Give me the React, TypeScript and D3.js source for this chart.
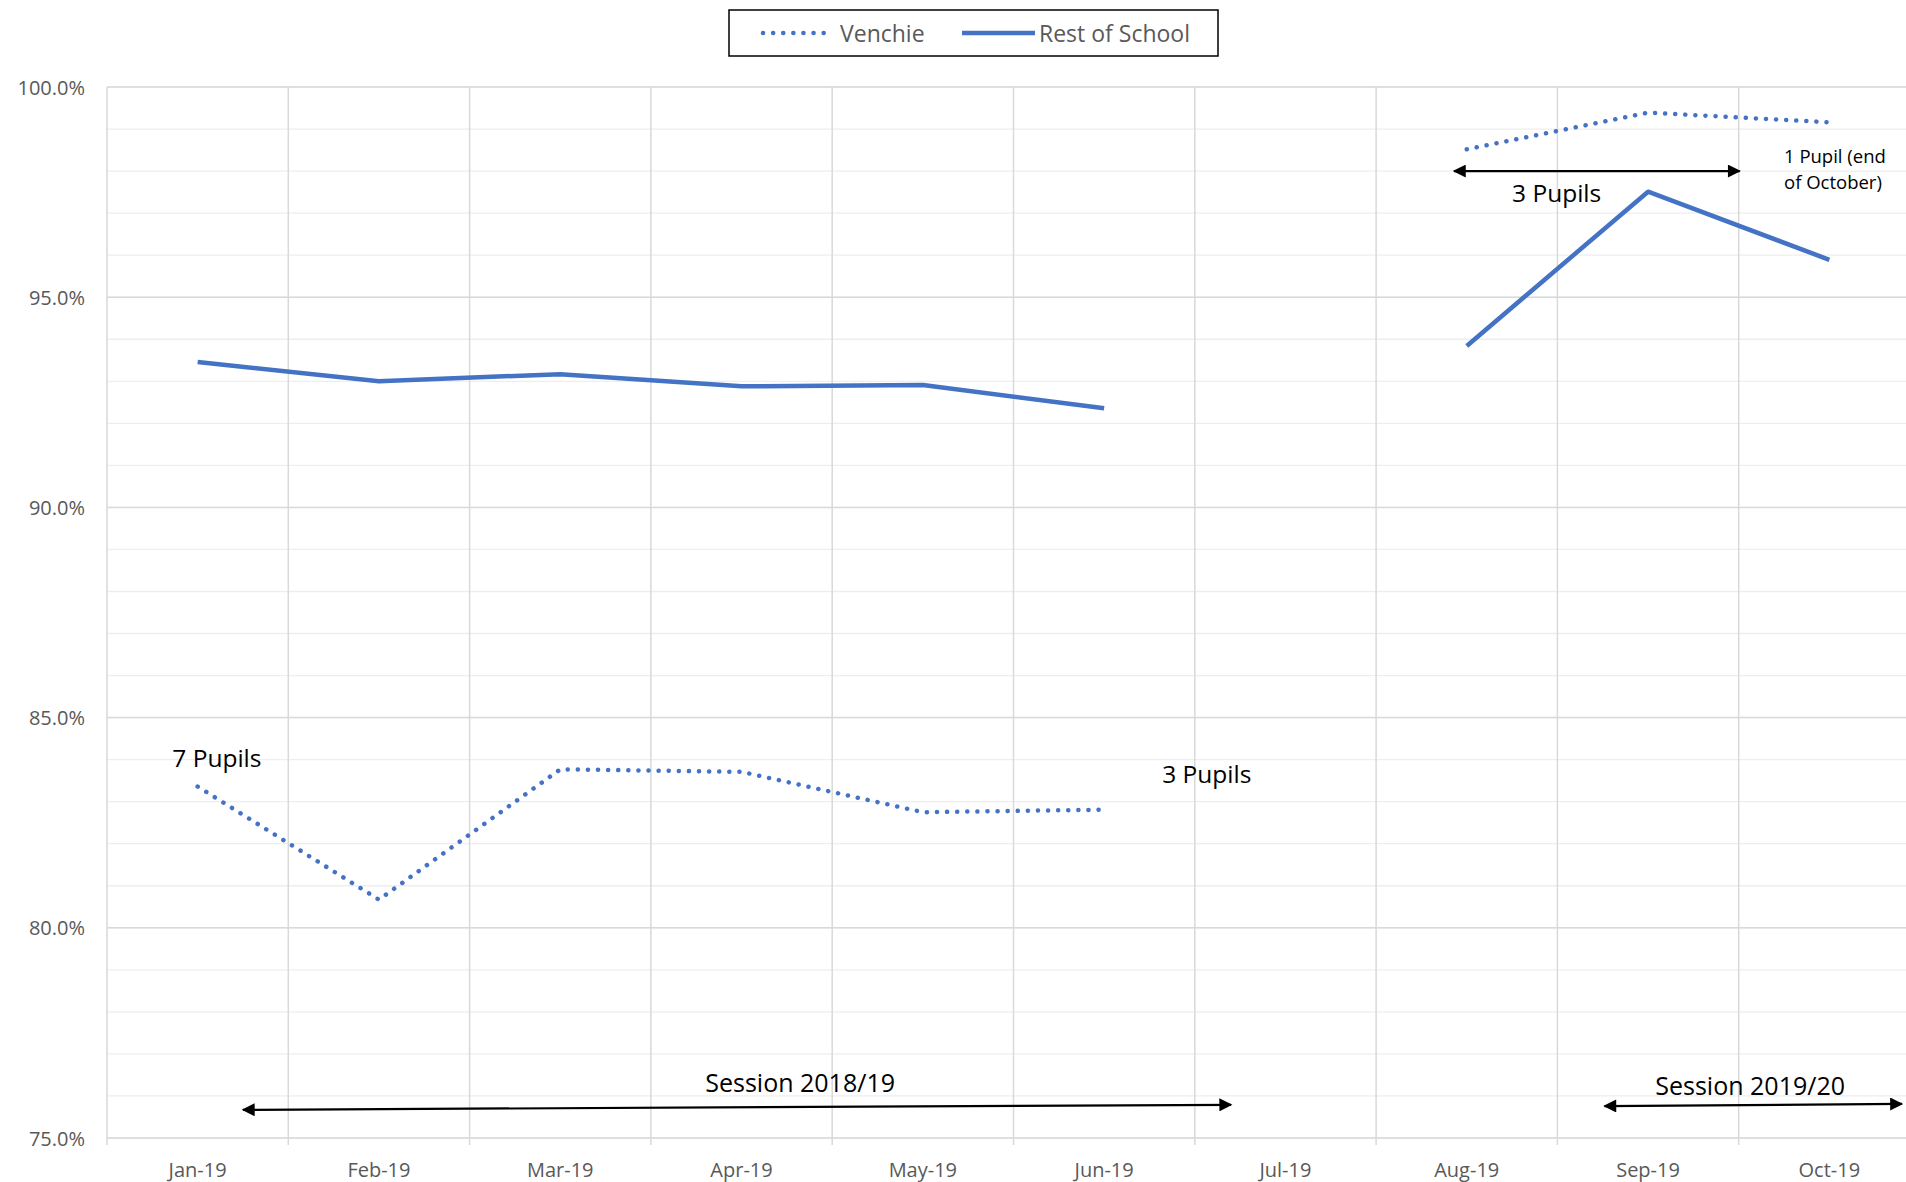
import * as d3 from "d3";

const months = ["Jan-19", "Feb-19", "Mar-19", "Apr-19", "May-19", "Jun-19", "Jul-19", "Aug-19", "Sep-19", "Oct-19"];
const venchie: (number | null)[] = [83.36, 80.67, 83.77, 83.71, 82.75, 82.81, null, 98.52, 99.39, 99.16];
const restOfSchool: (number | null)[] = [93.46, 93.0, 93.17, 92.88, 92.91, 92.36, null, 93.84, 97.51, 95.89];
const yTicks = [75, 80, 85, 90, 95, 100];
const yMinorTicks = d3.range(75, 100.5, 1);

// annotation text, placed by category index (fractional) and value
const notes = [
  { text: "7 Pupils", at: -0.14, v: 84.06, size: 24.5 },
  { text: "3 Pupils", at: 5.32, v: 83.66, size: 24.5 },
  { text: "3 Pupils", at: 7.25, v: 97.48, size: 24.5 },
  { text: "1 Pupil (end", at: 8.75, v: 98.36, size: 18.5 },
  { text: "of October)", at: 8.75, v: 97.76, size: 18.5 },
  { text: "Session 2018/19", at: 2.8, v: 76.33, size: 25 },
  { text: "Session 2019/20", at: 8.04, v: 76.26, size: 25 },
];
const arrows = [
  { from: 0.25, to: 5.7, v1: 75.67, v2: 75.79 },
  { from: 7.76, to: 9.4, v1: 75.76, v2: 75.81 },
  { from: 6.93, to: 8.505, v1: 98.0, v2: 98.0 },
];

const W = 1906;
const H = 1182;
const left = 107;
const top = 87;
const bottom = 1138;
const blue = "#4472C4";
const font = "'Open Sans', sans-serif";

export default function App() {
  const x = d3.scaleBand<string>().domain(months).range([left, left + months.length * 181.3]).padding(0);
  const y = d3.scaleLinear().domain([75, 100]).range([bottom, top]);
  const bw = x.bandwidth();
  const xi = (i: number) => left + i * bw + bw / 2;
  const right = left + months.length * bw;

  const line = d3
    .line<number | null>()
    .defined((d) => d !== null)
    .x((_, i) => (x(months[i]) as number) + bw / 2)
    .y((d) => y(d as number));

  return (
    <svg width={W} height={H} style={{ position: "absolute", left: 0, top: 0, background: "#fff" }}>
      <defs>
        <marker id="ah" viewBox="0 0 10 10" refX="9" refY="5" markerWidth="14" markerHeight="13" markerUnits="userSpaceOnUse" orient="auto-start-reverse">
          <path d="M0,0 L10,5 L0,10 z" fill="#000" />
        </marker>
      </defs>
      <rect width={W} height={H} fill="#fff" />

      {yMinorTicks.map((t) => (
        <line key={"m" + t} x1={left} x2={right} y1={y(t)} y2={y(t)} stroke="#EEEEEE" strokeWidth={1.3} />
      ))}
      {yTicks.map((t) => (
        <line key={"M" + t} x1={left} x2={right} y1={y(t)} y2={y(t)} stroke="#D9D9D9" strokeWidth={1.5} />
      ))}
      {months.map((m) => (
        <line key={"v" + m} x1={(x(m) as number) + bw} x2={(x(m) as number) + bw} y1={top} y2={bottom + 7} stroke="#D9D9D9" strokeWidth={1.5} />
      ))}
      <line x1={left} x2={left} y1={top} y2={bottom + 7} stroke="#D9D9D9" strokeWidth={1.5} />

      {yTicks.map((t) => (
        <text key={"yl" + t} x={85} y={y(t)} textAnchor="end" dominantBaseline="central" fontFamily={font} fontSize={20} fill="#595959">
          {d3.format(".1f")(t)}%
        </text>
      ))}
      {months.map((m) => (
        <text key={"xl" + m} x={(x(m) as number) + bw / 2} y={1169} textAnchor="middle" dominantBaseline="central" fontFamily={font} fontSize={20} fill="#595959">
          {m}
        </text>
      ))}

      <path d={line(restOfSchool) ?? ""} fill="none" stroke={blue} strokeWidth={4.5} strokeLinejoin="round" />
      <path d={line(venchie) ?? ""} fill="none" stroke={blue} strokeWidth={4.5} strokeDasharray="0.1 10" strokeLinecap="round" />

      {notes.map((n, i) => (
        <text key={"n" + i} x={xi(n.at)} y={y(n.v)} dominantBaseline="central" fontFamily={font} fontSize={n.size} fill="#000">
          {n.text}
        </text>
      ))}
      {arrows.map((a, i) => (
        <line key={"a" + i} x1={xi(a.from)} y1={y(a.v1)} x2={xi(a.to)} y2={y(a.v2)} stroke="#000" strokeWidth={2.2} markerStart="url(#ah)" markerEnd="url(#ah)" />
      ))}

      <g>
        <rect x={729} y={10} width={489} height={46} fill="#fff" stroke="#000" strokeWidth={1.5} />
        <line x1={763} x2={830} y1={33} y2={33} stroke={blue} strokeWidth={4.5} strokeDasharray="0.1 10" strokeLinecap="round" />
        <text x={840} y={33} dominantBaseline="central" fontFamily={font} fontSize={23} fill="#595959">Venchie</text>
        <line x1={962} x2={1035} y1={33} y2={33} stroke={blue} strokeWidth={4.5} />
        <text x={1039} y={33} dominantBaseline="central" fontFamily={font} fontSize={23} fill="#595959">Rest of School</text>
      </g>
    </svg>
  );
}
